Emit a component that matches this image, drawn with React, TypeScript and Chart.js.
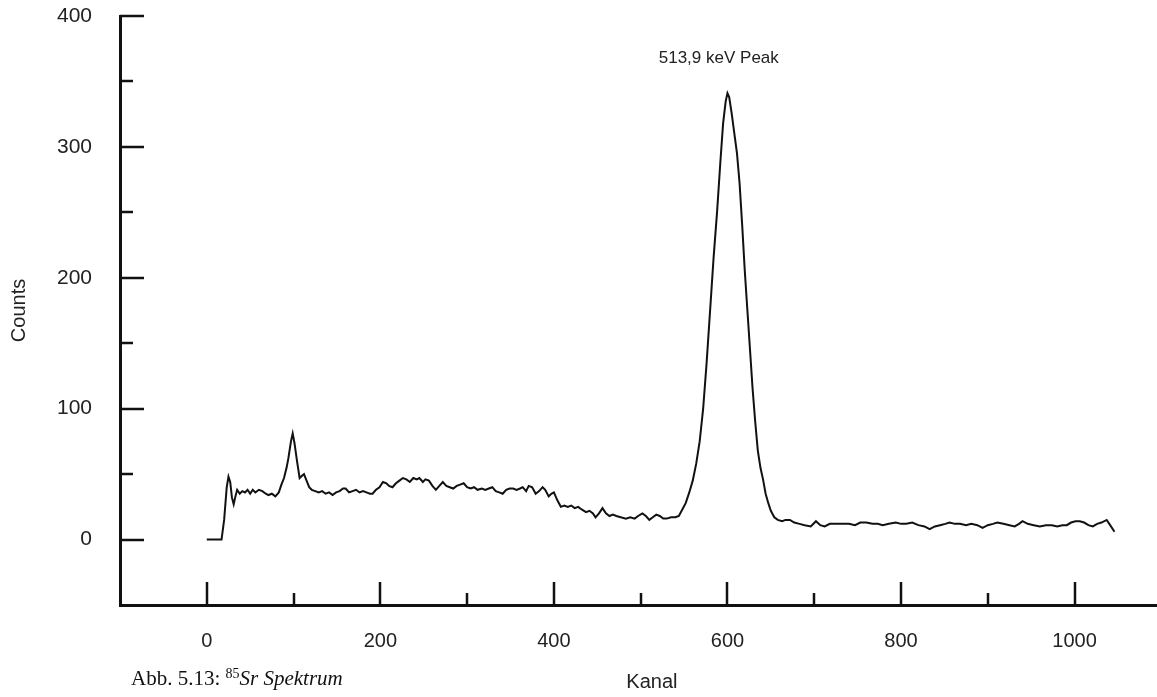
import React, { useEffect, useRef } from "react";
import { Chart, registerables } from "chart.js";

Chart.register(...registerables);

// ---- data (channel, counts) ----
const channels: number[] = [
  0, 17, 20, 23, 25, 27, 29, 31, 33, 35, 38, 41, 44, 47, 50, 53, 56, 60, 64, 68, 71, 75, 79, 83, 86, 89, 92, 94, 97, 99,
  101, 104, 107, 110, 112, 115, 118, 121, 125, 129, 133, 137, 141, 145, 149, 153, 157, 160, 164, 168, 172, 176, 180,
  184, 188, 191, 195, 199, 203, 207, 210, 214, 218, 222, 226, 230, 234, 238, 242, 245, 249, 252, 256, 260, 264, 268,
  272, 276, 280, 284, 288, 292, 296, 300, 304, 308, 312, 317, 321, 325, 329, 333, 337, 341, 345, 349, 353, 357, 361,
  364, 368, 371, 375, 379, 383, 387, 390, 394, 397, 400, 404, 408, 412, 416, 420, 424, 428, 432, 437, 441, 445, 448,
  452, 456, 460, 464, 468, 472, 477, 483, 488, 493, 497, 502, 506, 510, 514, 518, 522, 526, 530, 535, 540, 544, 548,
  552, 556, 560, 564, 568, 572, 576, 580, 584, 588, 592, 595, 598, 600, 602, 605, 608, 611, 614, 617, 620, 623, 626,
  629, 632, 635, 638, 641, 644, 647, 650, 654, 658, 663, 667, 672, 677, 683, 689, 696, 702, 707, 712, 718, 725, 732,
  740, 747, 753, 760, 767, 773, 779, 786, 794, 800, 806, 813, 820, 827, 833, 839, 845, 851, 856, 862, 868, 875, 881,
  888, 894, 900, 906, 911, 918, 925, 931, 936, 940, 946, 953, 960, 967, 974, 980, 986, 991, 996, 1001, 1006, 1011,
  1016, 1021, 1026, 1031, 1037, 1041, 1046,
];

const counts: number[] = [
  0, 0, 15, 40, 48, 44, 32, 27, 33, 38, 35, 37, 36, 38, 35, 38, 36, 38, 37, 35, 34, 35, 33, 36, 42, 47, 55, 62, 75, 81,
  74, 60, 47, 49, 50, 45, 40, 38, 37, 36, 37, 35, 36, 34, 36, 37, 39, 39, 36, 37, 38, 36, 37,
  36, 35, 35, 38, 40, 44, 43, 41, 40, 43, 45, 47, 46, 44, 47, 46, 47, 44, 46, 45, 41, 38, 41,
  44, 41, 40, 39, 41, 42, 43, 40, 39, 40, 38, 39, 38, 39, 40, 37, 36, 35, 38, 39, 39, 38, 39,
  40, 37, 41, 40, 35, 37, 40, 38, 33, 35, 36, 30, 25, 26, 25, 26, 24, 25, 23, 21, 22, 20, 17,
  20, 24, 20, 18, 19, 18, 17, 16, 17, 16, 18, 20, 18, 15, 17, 19, 18, 16, 16, 17, 17, 18, 23,
  28, 36, 45, 58, 75, 100, 135, 175, 215, 250, 290, 318, 335, 341, 338, 325, 310, 295, 272, 240, 205, 175, 145,
  115, 90, 68, 55, 46, 35, 28, 22, 17, 15, 14, 15, 15, 13, 12, 11, 10, 14, 11, 10, 12, 12, 12,
  12, 11, 13, 13, 12, 12, 11, 12, 13, 12, 12, 13, 11, 10, 8, 10, 11, 12, 13, 12, 12, 11, 12,
  11, 9, 11, 12, 13, 12, 11, 10, 12, 14, 12, 11, 10, 11, 11, 10, 11, 11, 13, 14, 14, 13,
  11, 10, 12, 13, 15, 11, 6,
];

// ---- axes ----
const xMin = -100;
const xMax = 1095;
const yMin = -50;
const yMax = 400;
const xTickLabels: number[] = [0, 200, 400, 600, 800, 1000];
const xMinorTicks: number[] = [100, 300, 500, 700, 900];
const yTickLabels: number[] = [0, 100, 200, 300, 400];
const yMinorTicks: number[] = [50, 150, 250, 350];

const xTitle = "Kanal";
const xTitleAt = 513; // channel under which the axis title is centred
const yTitle = "Counts";
const peakLabel = "513,9 keV Peak";
const peakLabelPos = { x: 590, y: 368 };

const SANS = '"Liberation Sans", Arial, Helvetica, sans-serif';
const INK = "#111";

const tickMarks = {
  id: "tickMarks",
  afterDraw(chart: any) {
    const { ctx, scales } = chart;
    const xs = scales.x;
    const ys = scales.y;
    const x0 = xs.getPixelForValue(xMin);
    const yb = ys.getPixelForValue(yMin);
    ctx.save();
    ctx.strokeStyle = INK;
    ctx.lineWidth = 2.5;
    ctx.beginPath();
    xTickLabels.forEach((v) => {
      const px = Math.round(xs.getPixelForValue(v));
      ctx.moveTo(px, yb);
      ctx.lineTo(px, yb - 23);
    });
    xMinorTicks.forEach((v) => {
      const px = Math.round(xs.getPixelForValue(v));
      ctx.moveTo(px, yb);
      ctx.lineTo(px, yb - 12);
    });
    yTickLabels.forEach((v) => {
      const py = Math.round(ys.getPixelForValue(v));
      ctx.moveTo(x0, py);
      ctx.lineTo(x0 + 24, py);
    });
    yMinorTicks.forEach((v) => {
      const py = Math.round(ys.getPixelForValue(v));
      ctx.moveTo(x0, py);
      ctx.lineTo(x0 + 13, py);
    });
    ctx.stroke();

    ctx.fillStyle = "#222";
    ctx.font = `17px ${SANS}`;
    ctx.textAlign = "center";
    ctx.textBaseline = "middle";
    ctx.fillText(peakLabel, xs.getPixelForValue(peakLabelPos.x), ys.getPixelForValue(peakLabelPos.y));

    ctx.font = `20px ${SANS}`;
    ctx.fillText(xTitle, xs.getPixelForValue(xTitleAt), chart.height - 15);
    ctx.restore();
  },
};

export default function App() {
  const ref = useRef<HTMLCanvasElement | null>(null);

  useEffect(() => {
    if (!ref.current) return;
    const points = channels.map((c, i) => ({ x: c, y: counts[i] }));
    const chart = new Chart(ref.current, {
      type: "line",
      data: {
        datasets: [
          {
            data: points,
            borderColor: INK,
            borderWidth: 2,
            pointRadius: 0,
            tension: 0,
            fill: false,
          },
        ],
      },
      options: {
        animation: false,
        responsive: false,
        devicePixelRatio: 1,
        layout: { padding: { top: 16, left: 0, right: 0, bottom: 0 } },
        plugins: { legend: { display: false }, tooltip: { enabled: false } },
        scales: {
          x: {
            type: "linear",
            min: xMin,
            max: xMax,
            afterBuildTicks: (s: any) => {
              s.ticks = xTickLabels.map((v) => ({ value: v }));
            },
            afterFit: (s: any) => {
              s.height = 92;
              s.paddingLeft = 0;
              s.paddingRight = 0;
            },
            grid: { display: false, drawTicks: false },
            border: { display: true, color: INK, width: 3 },
            ticks: {
              padding: 24,
              color: "#222",
              font: { family: SANS, size: 20 },
              maxRotation: 0,
              autoSkip: false,
              callback: (v: any) => String(v),
            },
            title: { display: false, text: xTitle },
          },
          y: {
            type: "linear",
            min: yMin,
            max: yMax,
            afterBuildTicks: (s: any) => {
              s.ticks = yTickLabels.map((v) => ({ value: v }));
            },
            afterFit: (s: any) => {
              s.width = 120;
              s.paddingTop = 0;
              s.paddingBottom = 0;
            },
            grid: { display: false, drawTicks: false },
            border: { display: true, color: INK, width: 3 },
            ticks: {
              padding: 28,
              color: "#222",
              font: { family: SANS, size: 21 },
              autoSkip: false,
              callback: (v: any) => String(v),
            },
            title: {
              display: true,
              text: yTitle,
              color: "#222",
              font: { family: SANS, size: 20 },
              padding: { top: 7, bottom: 0 },
            },
          },
        },
      },
      plugins: [tickMarks],
    });
    return () => chart.destroy();
  }, []);

  return (
    <div style={{ position: "absolute", left: 0, top: 0, width: 1157, height: 697, background: "#fff", overflow: "hidden" }}>
      <canvas ref={ref} width={1157} height={697} style={{ display: "block" }} />
      <div
        style={{
          position: "absolute",
          left: 131,
          top: 666,
          fontFamily: '"Liberation Serif", "Times New Roman", serif',
          fontSize: 21,
          color: "#111",
          whiteSpace: "nowrap",
          lineHeight: "24px",
        }}
      >
        Abb. 5.13: <sup style={{ fontSize: 14, verticalAlign: "7px", lineHeight: 0 }}>85</sup>
        <i>Sr Spektrum</i>
      </div>
    </div>
  );
}
